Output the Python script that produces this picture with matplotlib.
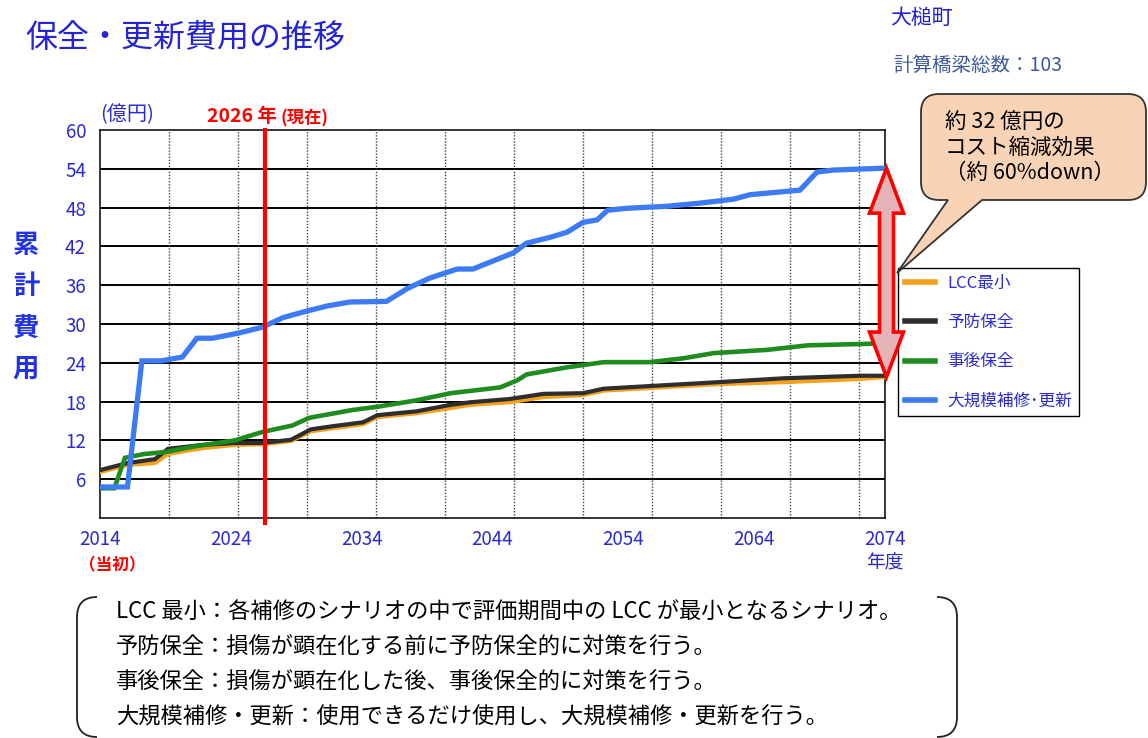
import numpy as np
import matplotlib
matplotlib.use("Agg")
import matplotlib.pyplot as plt
from matplotlib.path import Path
from matplotlib.patches import PathPatch, Polygon
from matplotlib.transforms import IdentityTransform

plt.rcParams['font.family'] = ['Noto Sans CJK JP', 'DejaVu Sans']

# ---------------- data ----------------
years_lcc = [2014, 2016.1, 2018.2, 2019.2, 2021.8, 2024.3, 2026.4, 2028.6, 2030.1, 2031.8,
             2034.1, 2035.2, 2038.2, 2040.8, 2042.3, 2045.3, 2047.9, 2050.9, 2052.5,
             2061.2, 2066.2, 2072.1, 2074]
lcc_min = [7.1, 8.2, 8.5, 9.9, 10.8, 11.3, 11.4, 11.9, 13.4, 13.9,
           14.5, 15.6, 16.2, 17.0, 17.5, 17.9, 18.7, 19.0, 19.7,
           20.7, 21.0, 21.5, 21.8]
yobou = [7.4, 8.5, 9.1, 10.7, 11.3, 11.6, 11.6, 12.1, 13.7, 14.2,
         14.8, 15.9, 16.5, 17.5, 17.9, 18.4, 19.2, 19.3, 20.0,
         21.0, 21.6, 22.0, 22.0]

years_jigo = [2014, 2015.1, 2015.9, 2017.4, 2019.0, 2021.3, 2024.3, 2026.4, 2028.7, 2030.0,
              2033.3, 2035.2, 2038.2, 2040.8, 2044.6, 2045.9, 2046.6, 2049.7, 2052.5,
              2056.0, 2058.6, 2060.9, 2065.0, 2068.1, 2074]
jigo = [4.6, 4.6, 9.3, 9.9, 10.2, 11.1, 12.0, 13.3, 14.3, 15.5,
        16.7, 17.2, 18.2, 19.3, 20.2, 21.3, 22.2, 23.3, 24.1,
        24.1, 24.7, 25.5, 26.0, 26.7, 27.0]

years_dai = [2014, 2016.1, 2017.2, 2018.7, 2020.3, 2021.4, 2022.6, 2024.6, 2026.4, 2028.0,
             2029.8, 2031.4, 2033.1, 2035.9, 2037.5, 2039.2, 2041.3, 2042.5, 2045.6, 2046.6,
             2048.4, 2049.7, 2050.9, 2052.0, 2052.8, 2054.3, 2057.3, 2059.9, 2062.4, 2063.7,
             2067.5, 2068.8, 2070.0, 2074]
daikibo = [4.8, 4.8, 24.3, 24.3, 24.9, 27.8, 27.8, 28.6, 29.5, 31.0,
           32.0, 32.8, 33.4, 33.5, 35.5, 37.1, 38.5, 38.5, 41.0, 42.5,
           43.4, 44.2, 45.7, 46.1, 47.6, 47.9, 48.2, 48.7, 49.3, 50.0,
           50.7, 53.5, 53.8, 54.1]

series_labels = ['LCC最小', '予防保全', '事後保全', '大規模補修･更新']
x_ticks = [2014, 2024, 2034, 2044, 2054, 2064, 2074]
y_ticks = [6, 12, 18, 24, 30, 36, 42, 48, 54, 60]
now_year_pos = 2026.6

notes = ['LCC 最小：各補修のシナリオの中で評価期間中の LCC が最小となるシナリオ。',
         '予防保全：損傷が顕在化する前に予防保全的に対策を行う。',
         '事後保全：損傷が顕在化した後、事後保全的に対策を行う。',
         '大規模補修・更新：使用できるだけ使用し、大規模補修・更新を行う。']

# ---------------- figure ----------------
W, H = 1148, 738
fig = plt.figure(figsize=(W / 100, H / 100), dpi=100)
fig.patch.set_facecolor('white')


def fx(x):
    return x / W


def fy(y):
    return 1 - y / H


ax = fig.add_axes([fx(100), fy(518), fx(885) - fx(100), fy(130) - fy(518)])
ax.set_xlim(2014, 2074)
ax.set_ylim(0, 60)

BLUE_TXT = '#2a2ad0'
c_orange = '#f5a11c'
c_black = '#2e2e2e'
c_green = '#1f8c1f'
c_blue = '#3d7bf5'

# grid
for v in y_ticks[:-1]:
    ax.axhline(v, color='black', lw=1.4, zorder=1)
grid_x = 2014 + np.arange(1, 12) * (60 * 69 / 785)
for gx in grid_x:
    ax.axvline(gx, color='#444444', lw=1.0, ls=(0, (1, 1.2)), zorder=1)

l1, = ax.plot(years_lcc, lcc_min, color=c_orange, lw=3.0, zorder=3, solid_joinstyle='miter')
l2, = ax.plot(years_lcc, yobou, color=c_black, lw=3.0, zorder=4, solid_joinstyle='miter')
l3, = ax.plot(years_jigo, jigo, color=c_green, lw=3.3, zorder=5, solid_joinstyle='miter')
l4, = ax.plot(years_dai, daikibo, color=c_blue, lw=3.8, zorder=6, solid_joinstyle='miter')

ax.axvline(now_year_pos, ymin=-0.012, ymax=1, color='#ff0000', lw=3.0, zorder=7, clip_on=False)

ax.set_xticks(x_ticks)
ax.set_xticklabels([str(t) for t in x_ticks])
ax.set_yticks(y_ticks)
ax.tick_params(axis='both', length=0, colors=BLUE_TXT, labelsize=13.5)
ax.tick_params(axis='x', pad=8)
ax.tick_params(axis='y', pad=10)
for sp in ax.spines.values():
    sp.set_color('black')
    sp.set_linewidth(1.1)

# legend
leg = ax.legend([l1, l2, l3, l4], series_labels, loc='upper left',
                bbox_to_anchor=(fx(898), fy(268)), bbox_transform=fig.transFigure,
                borderaxespad=0, fontsize=12, labelspacing=1.34, handlelength=1.8,
                handletextpad=0.75, borderpad=0.4, fancybox=False, framealpha=1,
                edgecolor='black')
leg.get_frame().set_linewidth(1.0)
for t in leg.get_texts():
    t.set_color(BLUE_TXT)
for h in leg.legend_handles:
    h.set_linewidth(4)
leg.set_zorder(8)

# texts
fig.text(fx(25), fy(38), '保全・更新費用の推移', fontsize=23, color='#2424d4', va='center', ha='left')
fig.text(fx(890), fy(18), '大槌町', fontsize=15, color='#1f1fd0', va='center', ha='left')
fig.text(fx(893), fy(65), '計算橋梁総数：103', fontsize=14, color='#3d5a9c', va='center', ha='left')
fig.text(fx(100), fy(115), '(億円)', fontsize=14.5, color=BLUE_TXT, va='center', ha='left')
fig.text(fx(207), fy(117), '2026 年', fontsize=14, color='#ff0000', fontweight='bold', va='center', ha='left')
fig.text(fx(281), fy(118), '(現在)', fontsize=12.5, color='#ff0000', fontweight='bold', va='center', ha='left')
fig.text(fx(885), fy(563), '年度', fontsize=13.5, color=BLUE_TXT, va='center', ha='center')
fig.text(fx(112), fy(565), '（当初）', fontsize=12, color='#ff0000', fontweight='bold', va='center', ha='center')
for i, ch in enumerate('累計費用'):
    fig.text(fx(26), fy(246 + i * 41), ch, fontsize=19, color='#2233e6', fontweight='bold',
             va='center', ha='center')

# callout box with tail
x0, x1, y0, y1, r = 921, 1146, 94, 200, 18
xa, xb, tip = 948, 982, (897, 273)
verts = [(x0 + r, y0), (x1 - r, y0), (x1, y0), (x1, y0 + r), (x1, y1 - r), (x1, y1), (x1 - r, y1),
         (xb, y1), tip, (xa, y1), (x0 + r, y1), (x0, y1), (x0, y1 - r), (x0, y0 + r), (x0, y0),
         (x0 + r, y0), (x0 + r, y0)]
codes = [Path.MOVETO, Path.LINETO, Path.CURVE3, Path.CURVE3, Path.LINETO, Path.CURVE3, Path.CURVE3,
         Path.LINETO, Path.LINETO, Path.LINETO, Path.LINETO, Path.CURVE3, Path.CURVE3, Path.LINETO,
         Path.CURVE3, Path.CURVE3, Path.CLOSEPOLY]
path = Path([(fx(a), fy(b)) for a, b in verts], codes)
fig.patches.append(PathPatch(path, transform=fig.transFigure, facecolor='#f9d3b6',
                             edgecolor='#333333', lw=1.3, zorder=9))
fig.text(fx(945), fy(123), '約 32 億円の', fontsize=15.5, color='black', va='center', ha='left', zorder=10)
fig.text(fx(945), fy(148), 'コスト縮減効果', fontsize=15.5, color='black', va='center', ha='left', zorder=10)
fig.text(fx(945), fy(173), '（約 60%down）', fontsize=15.5, color='black', va='center', ha='left', zorder=10)

# double arrow between the end values
fig.canvas.draw()
ptop = ax.transData.transform((2074, daikibo[-1]))
pbot = ax.transData.transform((2074, lcc_min[-1]))
cx = ptop[0] + 1.5
yt, yb = ptop[1], pbot[1]
hl, hw, sw = 45, 17, 7
arrow = [(cx, yt), (cx + hw, yt - hl), (cx + sw, yt - hl), (cx + sw, yb + hl), (cx + hw, yb + hl),
         (cx, yb), (cx - hw, yb + hl), (cx - sw, yb + hl), (cx - sw, yt - hl), (cx - hw, yt - hl)]
fig.patches.append(Polygon(arrow, closed=True, transform=IdentityTransform(),
                           facecolor='#e3b3b8', edgecolor='#ff0000', lw=2.6, zorder=11,
                           joinstyle='miter'))

# bottom bracket pair
def bracket(xe, xin):
    bt, bb, rr = 597, 737, 20
    s = 1 if xin > xe else -1
    v = [(xe + s * rr, bt), (xe, bt), (xe, bt + rr), (xe, bb - rr), (xe, bb), (xe + s * rr, bb)]
    c = [Path.MOVETO, Path.CURVE3, Path.CURVE3, Path.LINETO, Path.CURVE3, Path.CURVE3]
    return PathPatch(Path([(fx(a), fy(b)) for a, b in v], c), transform=fig.transFigure,
                     facecolor='none', edgecolor='#222222', lw=1.3)

fig.patches.append(bracket(77, 200))
fig.patches.append(bracket(957, 800))
for i, line in enumerate(notes):
    fig.text(fx(116), fy(612 + i * 35), line, fontsize=16, color='black', va='center', ha='left')

fig.savefig('out.png', dpi=100)
